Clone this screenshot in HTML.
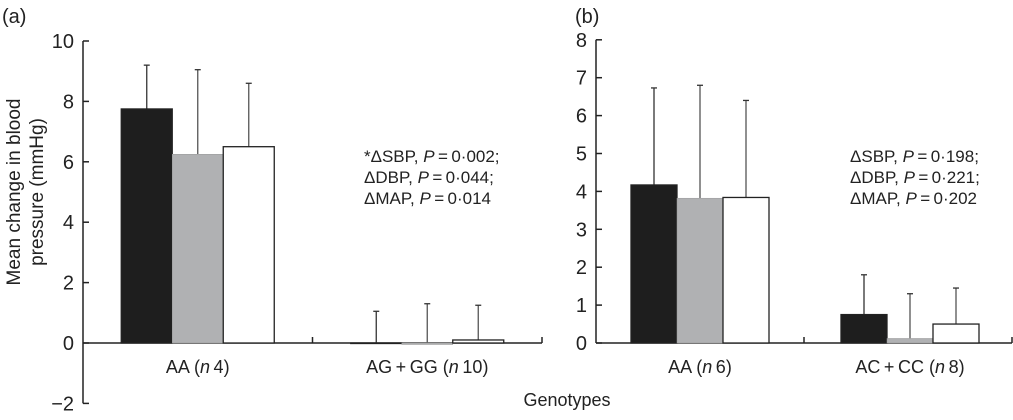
<!DOCTYPE html>
<html><head><meta charset="utf-8"><style>
body{margin:0;background:#fff}
svg text{font-family:"Liberation Sans",sans-serif;fill:#222}
</style></head><body>
<svg id="c" width="1013" height="415"></svg>
<script>
const groupsA=["AA (n 4)","AG + GG (n 10)"];
const valsA=[[7.75,6.25,6.5],[0,-0.05,0.1]];
const errA=[[9.2,9.05,8.6],[1.05,1.3,1.25]];
const ticksA=[-2,0,2,4,6,8,10];
const groupsB=["AA (n 6)","AC + CC (n 8)"];
const valsB=[[4.17,3.82,3.84],[0.75,0.12,0.5]];
const errB=[[6.73,6.8,6.4],[1.8,1.3,1.45]];
const ticksB=[0,1,2,3,4,5,6,7,8];
const fills=["#1e1e1e","#b0b1b3","#ffffff"];
const NS="http://www.w3.org/2000/svg";
const svg=document.getElementById('c');
function mk(t,a,txt){const e=document.createElementNS(NS,t);for(const k in a)e.setAttribute(k,a[k]);if(txt!==undefined)e.textContent=txt;svg.appendChild(e);return e;}
function panel(p){
  const y=v=>p.y0-v*p.k;
  const ax=mk('line',{x1:p.ax,y1:y(p.ticks[0]),x2:p.ax,y2:y(p.ticks[p.ticks.length-1]),stroke:'#222','stroke-width':1.5});
  
  p.ticks.forEach(t=>{
    mk('line',{x1:p.ax,y1:y(t),x2:p.ax+6,y2:y(t),stroke:'#222','stroke-width':1.5});
    const tl=mk('text',{x:p.ax-9,y:y(t)+7,'text-anchor':'end','font-size':20},t<0?'−'+(-t):t);
    
  });
  const xa=mk('line',{x1:p.ax,y1:y(0),x2:p.xend,y2:y(0),stroke:'#222','stroke-width':1.5});
  
  const mid=(p.ax+p.xend)/2;
  mk('line',{x1:mid,y1:y(0),x2:mid,y2:y(0)-6,stroke:'#222','stroke-width':1.5});
  mk('line',{x1:p.xend,y1:y(0),x2:p.xend,y2:y(0)-6,stroke:'#222','stroke-width':1.5});
  const gw=(p.xend-p.ax)/2;
  p.groups.forEach((g,gi)=>{
    const cx=p.ax+gw*(gi+0.5)+p.off[gi];
    p.vals[gi].forEach((v,si)=>{
      const x=cx+(si-1.5)*p.bw;
      const e=p.err[gi][si];
      const el=mk('line',{x1:x+p.bw/2,y1:y(Math.max(v,0)),x2:x+p.bw/2,y2:y(e),stroke:si==0?'#333':'#555','stroke-width':1.3});
      
      mk('line',{x1:x+p.bw/2-3,y1:y(e),x2:x+p.bw/2+3,y2:y(e),stroke:'#333','stroke-width':1.3});
      const r=mk('rect',{x:x,y:Math.min(y(v),y(0)),width:p.bw,height:Math.max(Math.abs(y(v)-y(0)),0.5),fill:fills[si],stroke:si==1?'#999':'#222','stroke-width':si==1?0.5:1.3});
      
    });
    const parts=g.match(/^(.*)\(n (\d+)\)$/);
    const t=mk('text',{x:cx,y:373,'text-anchor':'middle','font-size':18});
    
    t.appendChild(document.createTextNode(parts[1].replace(' + ','\u2009+\u2009')+'('));
    const ts=document.createElementNS(NS,'tspan');ts.setAttribute('font-style','italic');ts.textContent='n';t.appendChild(ts);
    t.appendChild(document.createTextNode('\u2009'+parts[2]+')'));
  });
  p.ann.forEach((s,i)=>{
    const t=mk('text',{x:p.annx,y:162+i*21,'font-size':17});
    
    t.appendChild(document.createTextNode(s[0]+', '));
    const ts=document.createElementNS(NS,'tspan');ts.setAttribute('font-style','italic');ts.textContent='P';t.appendChild(ts);
    t.appendChild(document.createTextNode('\u2009=\u2009'+s[1]));
  });
  const pl=mk('text',{x:p.lx,y:23,'font-size':20},p.label);
  
}
panel({id:'a',label:'(a)',lx:2,ax:83,xend:542,y0:343,k:30.2,ticks:ticksA,groups:groupsA,vals:valsA,err:errA,bw:51,off:[0,0],
  annx:364,ann:[['*ΔSBP','0·002;'],['ΔDBP','0·044;'],['ΔMAP','0·014']]});
panel({id:'b',label:'(b)',lx:575,ax:596,xend:1012,y0:343,k:37.9,ticks:ticksB,groups:groupsB,vals:valsB,err:errB,bw:46,off:[0,2],
  annx:850,ann:[['ΔSBP','0·198;'],['ΔDBP','0·221;'],['ΔMAP','0·202']]});
const yl=mk('text',{transform:'translate(20,192) rotate(-90)','text-anchor':'middle','font-size':19},'Mean change in blood');

const yl2=mk('text',{transform:'translate(43,192) rotate(-90)','text-anchor':'middle','font-size':19},'pressure (mmHg)');

const xt=mk('text',{x:567,y:406,'text-anchor':'middle','font-size':18},'Genotypes');

</script>
</body></html>
